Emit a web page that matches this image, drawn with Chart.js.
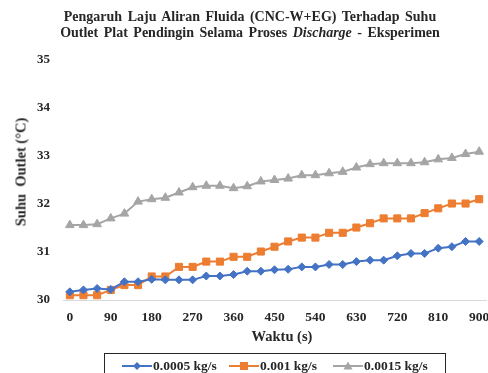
<!DOCTYPE html>
<html><head><meta charset="utf-8">
<script src="https://cdn.jsdelivr.net/npm/chart.js@4/dist/chart.umd.min.js"></script>
<style>
html,body{margin:0;padding:0;background:#fff;overflow:hidden;}
#wrap{position:relative;width:488px;height:373px;overflow:hidden;font-family:"Liberation Serif","Times New Roman",serif;color:#262626;}
#title{position:absolute;left:0;top:9px;width:500px;text-align:center;font-weight:bold;font-size:14px;line-height:16px;word-spacing:2px;}
#c{position:absolute;left:0;top:0;}
#ytitle{position:absolute;left:21px;top:172px;transform:translate(-50%,-50%) rotate(-90deg);white-space:pre;font-weight:bold;font-size:14.5px;}
#xtitle{position:absolute;left:282px;top:336px;transform:translate(-50%,-50%);white-space:pre;font-weight:bold;font-size:14.5px;}
#legend{position:absolute;left:104px;top:353px;width:342px;height:26px;border:1px solid #262626;box-sizing:border-box;}
.item{position:absolute;top:3px;height:18px;display:flex;align-items:center;font-weight:bold;font-size:13.5px;}
.item svg{margin-right:1px;}
</style></head>
<body>
<div id="wrap">
<canvas id="c" width="492" height="373"></canvas>
<div id="title">Pengaruh Laju Aliran Fluida (CNC-W+EG) Terhadap Suhu<br>Outlet Plat Pendingin Selama Proses <i>Discharge</i> - Eksperimen</div>
<div id="ytitle">Suhu  Outlet (°C)</div>
<div id="xtitle">Waktu (s)</div>
<div id="legend"></div>
</div>
<script>
const times = [0,30,60,90,120,150,180,210,240,270,300,330,360,390,420,450,480,510,540,570,600,630,660,690,720,750,780,810,840,870,900];
const seriesNames = ["0.0005 kg/s","0.001 kg/s","0.0015 kg/s"];
const flow00005 = [30.17,30.21,30.24,30.22,30.38,30.38,30.43,30.42,30.42,30.42,30.50,30.50,30.53,30.60,30.60,30.63,30.64,30.69,30.69,30.74,30.74,30.80,30.83,30.83,30.92,30.97,30.97,31.08,31.11,31.22,31.22];
const flow0001 = [30.10,30.10,30.10,30.21,30.31,30.31,30.49,30.49,30.69,30.69,30.80,30.80,30.90,30.90,31.01,31.11,31.22,31.30,31.30,31.40,31.40,31.51,31.60,31.70,31.70,31.70,31.81,31.91,32.01,32.01,32.10];
const flow00015 = [31.56,31.56,31.58,31.70,31.80,32.05,32.10,32.13,32.24,32.35,32.38,32.38,32.33,32.37,32.47,32.50,32.53,32.60,32.60,32.64,32.67,32.76,32.83,32.85,32.85,32.85,32.87,32.93,32.96,33.04,33.09];
const yTicks = [30,31,32,33,34,35];
const xTickLabels = ["0","90","180","270","360","450","540","630","720","810","900"];

const colors = ["#4472C4","#ED7D31","#A5A5A5"];
const styles = ["rectRot","rect","triangle"];
const radii = [4,5,5];
const allData = [flow00005, flow0001, flow00015];
const FONT = "'Liberation Serif','Times New Roman',serif";

const datasets = allData.map((d,i)=>({
  label: seriesNames[i],
  data: d,
  borderColor: colors[i],
  backgroundColor: colors[i],
  borderWidth: 2,
  pointStyle: styles[i],
  pointRadius: radii[i],
  pointBorderWidth: 1,
  pointBorderColor: colors[i],
  tension: 0
}));

new Chart(document.getElementById('c'), {
  type: 'line',
  data: { labels: times.map(String), datasets },
  options: {
    responsive: false,
    animation: false,
    devicePixelRatio: 1,
    layout: { padding: { top: 60, right: 0, bottom: 30, left: 0 } },
    plugins: { legend: { display: false }, tooltip: { enabled: false }, title: { display: false } },
    scales: {
      x: {
        type: 'category',
        offset: true,
        grid: { display: false, drawTicks: false },
        border: { display: true, color: '#D9D9D9', width: 1 },
        ticks: {
          autoSkip: false, maxRotation: 0, padding: 9,
          color: '#262626', font: { family: FONT, size: 13.5, weight: 'bold' },
          callback: function(v){ const l = this.getLabelForValue(v); return xTickLabels.includes(l) ? l : ''; }
        },
        title: { display: false },
        afterFit: s => { s.height = 43; s.paddingRight = 0; s.paddingLeft = 0; }
      },
      y: {
        min: yTicks[0], max: yTicks[yTicks.length-1],
        grid: { display: false, drawTicks: false },
        border: { display: false },
        afterBuildTicks: s => { s.ticks = yTicks.map(v=>({value:v})); },
        ticks: { padding: 13, color: '#262626', font: { family: FONT, size: 13, weight: 'bold' } },
        title: { display: false },
        afterFit: s => { s.width = 63; }
      }
    }
  }
});

// legend
const legend = document.getElementById('legend');
const lefts = [17, 124, 228];
seriesNames.forEach((n,i)=>{
  const div = document.createElement('div');
  div.className = 'item';
  div.style.left = lefts[i] + 'px';
  let marker;
  if (i===0) marker = `<polygon points="15,2 19,6 15,10 11,6" fill="${colors[i]}"/>`;
  else if (i===1) marker = `<rect x="11" y="2" width="8" height="8" fill="${colors[i]}"/>`;
  else marker = `<polygon points="15,1.5 19.5,9.5 10.5,9.5" fill="${colors[i]}"/>`;
  div.innerHTML = `<svg width="30" height="12"><line x1="0" y1="6" x2="30" y2="6" stroke="${colors[i]}" stroke-width="2"/>${marker}</svg><span>${n}</span>`;
  legend.appendChild(div);
});
</script>
</body></html>
